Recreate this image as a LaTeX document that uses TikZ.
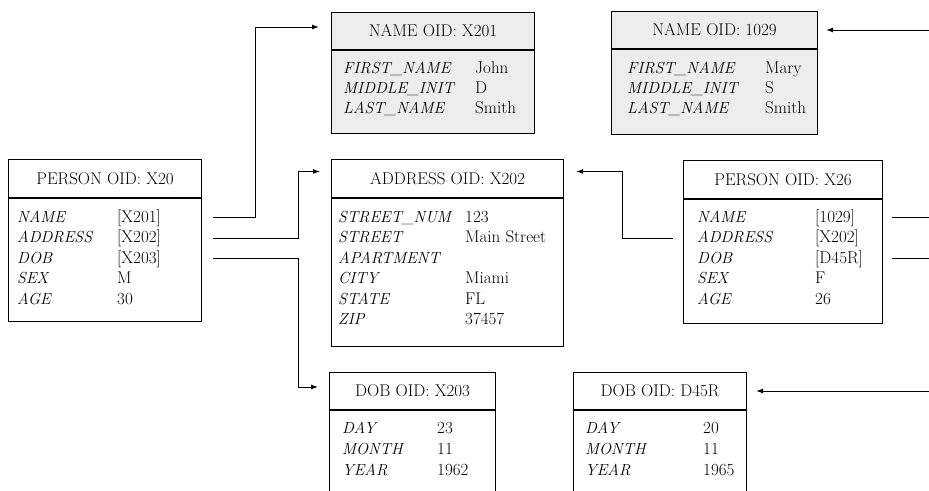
\documentclass[tikz,border=0pt]{standalone}
\usetikzlibrary{arrows.meta}
\begin{document}
\begin{tikzpicture}[x=1pt,y=-1pt,
		record/.style={draw,line width=1.1pt,inner sep=0,anchor=north west},
		namerec/.style={record,fill=black!7},
		title/.style={inner sep=0,font=\fontsize{17}{19}\selectfont},
		key/.style={anchor=base west,inner sep=0,font=\fontsize{16}{18}\selectfont\itshape},
		val/.style={anchor=base west,inner sep=0,font=\fontsize{17}{19}\selectfont},
		line/.style={line width=1pt},
		link/.style={line,-{Latex[length=7pt,width=5pt]}}]
			\clip (0,0) rectangle (929,490);
			\coordinate (edge) at (929,0);
			
			% PERSON X20
			\node[record,minimum width=193,minimum height=162] (p20) at (8,159) {};
			\draw[line width=1.1pt] ([yshift=-39]p20.north west) -- ([yshift=-39]p20.north east);
			\node[title] (p20h) at ([yshift=-19.5]p20.north) {PERSON OID: X20};
			\foreach \k/\v [count=\i] in {NAME/{[X201]},ADDRESS/{[X202]},DOB/{[X203]},SEX/M,AGE/30}{
				\node[key] (p20k\i) at (17,{201.5+20.5*\i}) {\k};
				\node[val] (p20v\i) at (117,{201.5+20.5*\i}) {\v};}
			
			% PERSON X26
			\node[record,minimum width=199,minimum height=163] (p26) at (683,160) {};
			\draw[line width=1.1pt] ([yshift=-39]p26.north west) -- ([yshift=-39]p26.north east);
			\node[title] (p26h) at ([yshift=-19.5]p26.north) {PERSON OID: X26};
			\foreach \k/\v [count=\i] in {NAME/{[1029]},ADDRESS/{[X202]},DOB/{[D45R]},SEX/F,AGE/26}{
				\node[key] (p26k\i) at (697,{201.5+20.5*\i}) {\k};
				\node[val] (p26v\i) at (815,{201.5+20.5*\i}) {\v};}
			
			% NAME X201
			\node[namerec,minimum width=203,minimum height=121] (n201) at (331,12) {};
			\draw[line width=1.1pt] ([yshift=-38]n201.north west) -- ([yshift=-38]n201.north east);
			\node[title] (n201h) at ([yshift=-19]n201.north) {NAME OID: X201};
			\foreach \k/\v [count=\i] in {FIRST\_NAME/John,MIDDLE\_INIT/D,LAST\_NAME/Smith}{
				\node[key] (n201k\i) at (343,{53+20*\i}) {\k};
				\node[val] (n201v\i) at (475,{53+20*\i}) {\v};}
			
			% NAME 1029
			\node[namerec,minimum width=206,minimum height=123] (n1029) at (611,11) {};
			\draw[line width=1.1pt] ([yshift=-38]n1029.north west) -- ([yshift=-38]n1029.north east);
			\node[title] (n1029h) at ([yshift=-19]n1029.north) {NAME OID: 1029};
			\foreach \k/\v [count=\i] in {FIRST\_NAME/Mary,MIDDLE\_INIT/S,LAST\_NAME/Smith}{
				\node[key] (n1029k\i) at (627,{53+20*\i}) {\k};
				\node[val] (n1029v\i) at (765,{53+20*\i}) {\v};}
			
			% ADDRESS X202
			\node[record,minimum width=232,minimum height=187] (addr) at (331,159) {};
			\draw[line width=1.1pt] ([yshift=-39]addr.north west) -- ([yshift=-39]addr.north east);
			\node[title] (addrh) at ([yshift=-19.5]addr.north) {ADDRESS OID: X202};
			\foreach \k/\v [count=\i] in {STREET\_NUM/123,STREET/Main Street,APARTMENT/{},CITY/Miami,STATE/FL,ZIP/37457}{
				\node[key] (addrk\i) at (338,{201.5+20.5*\i}) {\k};
				\node[val] (addrv\i) at (465,{201.5+20.5*\i}) {\v};}
			
			% DOB X203
			\node[record,minimum width=166,minimum height=140] (d203) at (329,372) {};
			\draw[line width=1.1pt] ([yshift=-38]d203.north west) -- ([yshift=-38]d203.north east);
			\node[title] (d203h) at ([yshift=-19]d203.north) {DOB OID: X203};
			\foreach \k/\v [count=\i] in {DAY/23,MONTH/11,YEAR/1962}{
				\node[key] (d203k\i) at (342,{412+21*\i}) {\k};
				\node[val] (d203v\i) at (437,{412+21*\i}) {\v};}
			
			% DOB D45R
			\node[record,minimum width=173,minimum height=140] (d45) at (573,372) {};
			\draw[line width=1.1pt] ([yshift=-38]d45.north west) -- ([yshift=-38]d45.north east);
			\node[title] (d45h) at ([yshift=-19]d45.north) {DOB OID: D45R};
			\foreach \k/\v [count=\i] in {DAY/20,MONTH/11,YEAR/1965}{
				\node[key] (d45k\i) at (585,{412+21*\i}) {\k};
				\node[val] (d45v\i) at (703,{412+21*\i}) {\v};}
			
			% pointers
			\draw[link] ([xshift=11]p20.east |- p20v1) -- ++(42,0) |- ([xshift=-12,yshift=4]n201.west |- n201h);
			\draw[link] ([xshift=11]p20.east |- p20v2) -- ++(85,0) |- ([xshift=-11,yshift=7]addr.west |- addrh);
			\draw[link] ([xshift=11]p20.east |- p20v3) -- ++(85,0) |- ([xshift=-11,yshift=4]d203.west |- d203h);
			\draw[link] ([xshift=-10]p26.west |- p26v2) -- ++(-51,0) |- ([xshift=12,yshift=7]addr.east |- addrh);
			\draw[line] ([xshift=9]p26.east |- p26v1) -- (edge |- p26v1);
			\draw[line] ([xshift=9]p26.east |- p26v3) -- (edge |- p26v3);
			\draw[link] (edge |- n1029h) -- ([xshift=8]n1029.east |- n1029h);
			\draw[link] (edge |- d45h) -- ([xshift=9]d45.east |- d45h);
			
		\end{tikzpicture}
\end{document}
